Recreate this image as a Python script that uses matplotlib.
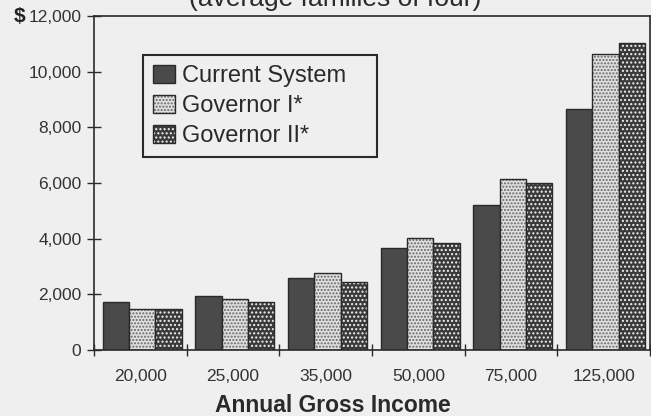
import matplotlib
matplotlib.use("Agg")
import matplotlib.pyplot as plt
import numpy as np

categories = ["20,000", "25,000", "35,000", "50,000", "75,000", "125,000"]
current_system = [1730, 1950, 2590, 3680, 5210, 8660]
governor_1 = [1470, 1850, 2750, 4040, 6150, 10620]
governor_2 = [1470, 1710, 2450, 3840, 6000, 11020]
series_names = ["Current System", "Governor I*", "Governor II*"]
yticks = [0, 2000, 4000, 6000, 8000, 10000, 12000]

plt.rcParams['font.family'] = ['Liberation Sans', 'DejaVu Sans']
plt.rcParams['hatch.linewidth'] = 1.0

BG = '#efefef'
INK = '#2a2a2a'

fig = plt.figure(figsize=(6.51, 4.16), dpi=100, facecolor=BG)
ax = fig.add_axes([94/651, 66/416, 556/651, 334/416])
ax.set_facecolor(BG)

x = np.arange(len(categories))
w = 0.284
styles = [
    dict(face='#4a4a4a', hatchc='#4a4a4a', hatch=None),
    dict(face='#e0e0e0', hatchc='#666666', hatch='.....'),
    dict(face='#3a3a3a', hatchc='#f0f0f0', hatch='....'),
]
handles = []
for i, (vals, st) in enumerate(zip([current_system, governor_1, governor_2], styles)):
    pos = x + (i - 1) * w + 0.02
    b1 = ax.bar(pos, vals, w, color=st['face'], edgecolor=st['hatchc'],
                hatch=st['hatch'], linewidth=0)
    b2 = ax.bar(pos, vals, w, fill=False, edgecolor=INK, linewidth=1.0)
    handles.append((b1, b2))

ax.set_xlim(-0.5, 5.5)
ax.set_ylim(0, 12000)
ax.set_yticks(yticks)
ylabels = [f"{v:,}" for v in yticks]
ax.set_yticklabels(ylabels)
ax.set_xticks(x)
ax.set_xticklabels(categories)
ax.set_xticks(np.arange(-0.5, 5.6, 1.0), minor=True)
ax.tick_params(axis='x', which='major', length=0, pad=14, labelsize=12.5, labelcolor='#333333')
ax.tick_params(axis='x', which='minor', direction='inout', length=9, width=1.0, color=INK)
ax.tick_params(axis='y', direction='inout', length=10, width=1.0, color=INK,
               labelsize=12.5, labelcolor='#333333', pad=4)
for s in ax.spines.values():
    s.set_color(INK)
    s.set_linewidth(1.2)

ax.text(-0.123, 12000, "$", transform=ax.get_yaxis_transform(), ha='right', va='center',
        fontsize=15, fontweight='bold', color='#222222')

ax.set_xlabel("Annual Gross Income", fontsize=16.5, fontweight='bold', color='#2a2a2a')
ax.xaxis.label.set_va('baseline')
ax.xaxis.set_label_coords(0.43, -0.186)

fig.text(0.515, 0.9856, "(average families of four)", ha='center', va='baseline',
         fontsize=19, color='#2a2a2a')

leg = ax.legend(handles, series_names, loc='upper left',
                bbox_to_anchor=(0.088, 0.5, 0.421, 0.383), mode='expand',
                borderaxespad=0, fontsize=17, handlelength=0.95, handleheight=0.82,
                handletextpad=0.3, labelspacing=0.32, borderpad=0.42, fancybox=False,
                frameon=True, facecolor=BG, framealpha=1, edgecolor=INK)
leg.get_frame().set_linewidth(1.5)
for t in leg.get_texts():
    t.set_color('#2a2a2a')

fig.savefig("out.png", dpi=100, facecolor=BG)
